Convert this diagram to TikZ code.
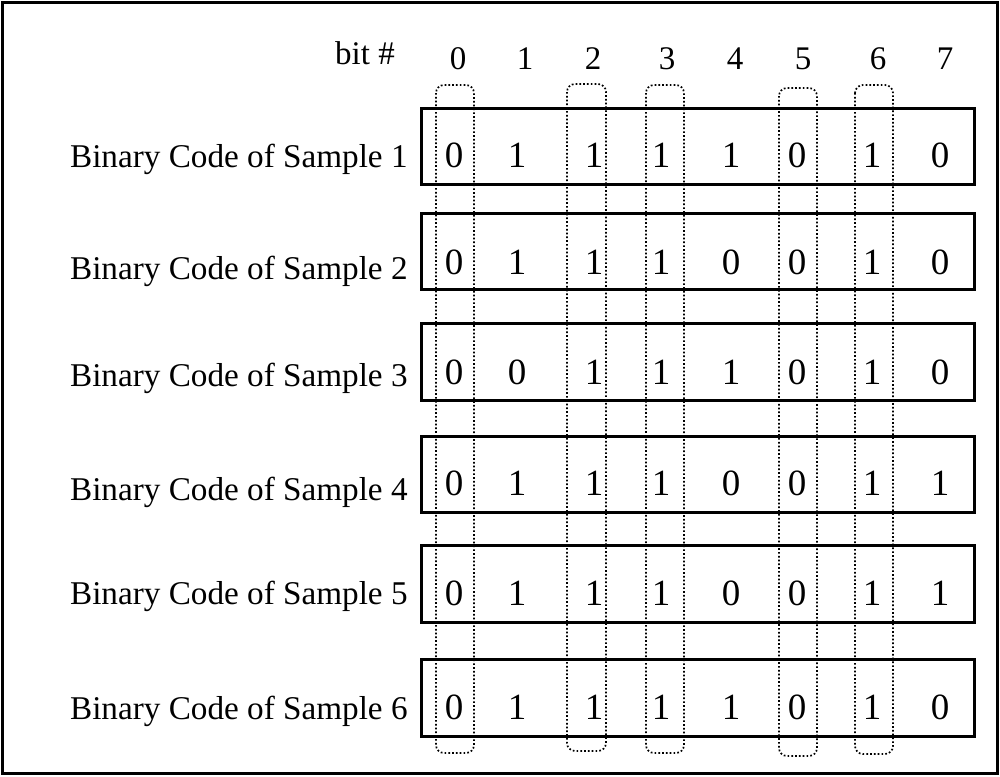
\documentclass[tikz,border=0pt]{standalone}
\usepackage{fontspec}
\setmainfont{Liberation Serif}
\begin{document}
\begin{tikzpicture}[x=0.5pt,y=-0.5pt,
  frame/.style={draw=black, line width=1.5pt},
  rowbox/.style={draw=black, line width=1.5pt},
  colbox/.style={draw=black, line width=0.85pt, dash pattern=on 0.85pt off 1.05pt, rounded corners=4pt},
  lab/.style={font=\fontsize{16.6}{20}\selectfont, inner sep=0pt, anchor=base east},
  hdr/.style={font=\fontsize{16.5}{20}\selectfont, inner sep=0pt},
  bitv/.style={font=\fontsize{18.5}{20}\selectfont, inner sep=0pt, anchor=base}]
\useasboundingbox (0,0) rectangle (1000,776);
\draw[frame] (2.5,2.5) rectangle (997.5,773.5);

% header
\node[hdr, anchor=base] (bitlbl) at (365,64) {bit \#};
\foreach \i/\x in {0/458,1/525,2/593,3/667,4/735,5/803,6/878,7/945}
  \node[hdr, anchor=base] (h\i) at (\x,69) {\i};

% dotted column boxes
\draw[colbox] (436,85) rectangle (474,753);
\draw[colbox] (567,84) rectangle (606,751);
\draw[colbox] (646,85) rectangle (684,753);
\draw[colbox] (779,88) rectangle (817,756);
\draw[colbox] (855,85) rectangle (893,754);

% rows
\foreach \r/\top/\bot/\db/\lb/\bits in {
  1/108/184/167/167/{0,1,1,1,1,0,1,0},
  2/213/289/274/279/{0,1,1,1,0,0,1,0},
  3/323/400/384/386/{0,0,1,1,1,0,1,0},
  4/436/512/495/500/{0,1,1,1,0,0,1,1},
  5/545/622/605/604/{0,1,1,1,0,0,1,1},
  6/659/736/719/719/{0,1,1,1,1,0,1,0}}{
  \draw[rowbox] (421,\top) rectangle (974,\bot);
  \node[lab] (L\r) at (408,\lb) {Binary Code of Sample \r};
  \foreach \b [count=\c from 0] in \bits {
    \pgfmathsetmacro{\xx}{{454,517,594,661,731,797,872,940}[\c]}
    \node[bitv] (b\r-\c) at (\xx,\db) {\b};
  }
}
\end{tikzpicture}
\end{document}
